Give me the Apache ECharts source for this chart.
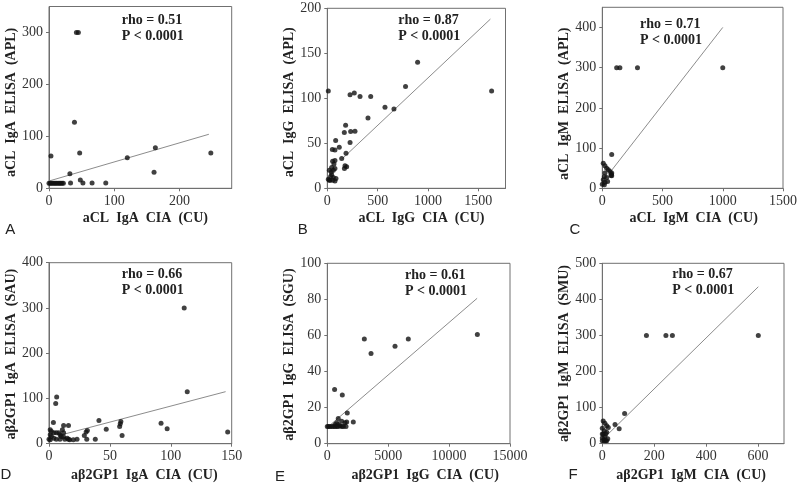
<!DOCTYPE html>
<html><head><meta charset="utf-8">
<script src="https://cdn.jsdelivr.net/npm/echarts@6/dist/echarts.min.js"></script>
<style>html,body{margin:0;padding:0;background:#fff}#c{width:800px;height:483px}</style>
</head><body><div id="c"></div>
<script>
// ---------- DATA ----------
const ptsA = [[42,300],[45,300],[39,127],[47,68],[3,62],[120,59],[163,78],[161,31],[248,68],[32,28],[48,16],[52,10],[33,10],[66,10],[87,10],
  [0,9.5],[2,9.5],[4,9.5],[6,9.5],[8,9.5],[10,9.5],[12,9.5],[14,9.5],[16,9.5],[18,9.5],[20,9.5],[22,9.5]];
const fitA = [[0,14],[245,104]];
const ptsB = [[10,108],[897,140],[1632,108],[777,113],[573,90],[662,88],[404,78],[226,104],[268,106],[325,102],[431,102],[182,70],[169,62],[232,63],[275,63.5],[226,51],[83,53],[50,43],[76,42.6],[119,45.6],[143,33],[186,39],[176,25],[192,24],[170,22],[53,30],[76,31],[66,27],[43,23],[76,22],[20,20],[10,10],[43,15],[60,12],[86,11],[27,9],[53,9],[76,8],[33,13],[20,9],[40,18],[60,20]];
const fitB = [[150,33],[1620,188]];
const ptsC = [[119,300],[146,300],[292,300],[1000,300],[78,84],[8,62],[22,56],[36,50],[50,46],[64,42],[78,38],[72,32],[22,38],[17,29],[36,27],[8,21],[22,15],[44,17],[0,10],[17,9],[78,31],[75,35]];
const fitC = [[60,38],[1000,400]];
const ptsD = [[111,300],[113.5,115],[146.7,26],[92,45],[97,33],[59,49],[58.5,44],[58,38],[60,18],[41,51],[47,32],[30.5,26],[31.5,29],[29,18],[31,10],[23,10],[38,10],[16,10],[6.3,103],[5.5,89],[3.6,47],[12,40],[16,40],
  [1,31],[2,27],[4,24],[6,24],[8,24],[9,20],[10,16],[12,15],[1,20],[2,16],[4,12],[6,10],[9,10],[13,10],[15,12],[17,9],[20,9],[0,10],[1,9],[12,24],[11,31]];
const fitD = [[8,18],[145,115]];
const ptsE = [[3040,58],[3590,50],[5560,54],[6650,58],[12320,60.5],[600,30],[1230,27],[1640,17],[900,14],[2135,12],[1180,12.5],[1450,11.6],[1590,12],[1535,9.6],[1040,10],[770,11.6],[900,10.7],[630,10.7],
  [0,9.5],[100,9.5],[220,9.5],[360,9.5],[500,9.5],[630,9.5],[770,9.5],[900,9.5],[1180,9.5],[1320,9.5]];
const fitE = [[0,9],[12300,80.6]];
const ptsF = [[170,300],[245,300],[270,300],[601,300],[86,84],[49,53],[65,41.5],[3.5,63],[10,57],[17,50],[23,45],[0,43],[8,36],[3.5,27],[10,20],[17,32],[0,16],[8,11],[13,8],[21,14],[0,8],[8,8],[17,8],[0,27],[13,27]];
const fitF = [[20,25],[601,435]];

const xTicksA = [0,100,200], yTicksA = [0,100,200,300];
const xTicksB = [0,500,1000,1500], yTicksB = [0,50,100,150,200];
const xTicksC = [0,500,1000,1500], yTicksC = [0,100,200,300,400];
const xTicksD = [0,50,100,150], yTicksD = [0,100,200,300,400];
const xTicksE = [0,5000,10000,15000], yTicksE = [0,20,40,60,80,100];
const xTicksF = [0,200,400,600], yTicksF = [0,100,200,300,400,500];

const xNames = ['aCL  IgA  CIA  (CU)','aCL  IgG  CIA  (CU)','aCL  IgM  CIA  (CU)','aβ2GP1  IgA  CIA  (CU)','aβ2GP1  IgG  CIA  (CU)','aβ2GP1  IgM  CIA  (CU)'];
const yNames = ['aCL  IgA  ELISA  (APL)','aCL  IgG  ELISA  (APL)','aCL  IgM  ELISA  (APL)','aβ2GP1  IgA  ELISA  (SAU)','aβ2GP1  IgG  ELISA  (SGU)','aβ2GP1  IgM  ELISA  (SMU)'];
const rhoTexts = ['rho = 0.51','rho = 0.87','rho = 0.71','rho = 0.66','rho = 0.61','rho = 0.67'];
const pTexts = ['P < 0.0001','P < 0.0001','P < 0.0001','P < 0.0001','P < 0.0001','P < 0.0001'];
const letters = ['A','B','C','D','E','F'];

const points = [ptsA,ptsB,ptsC,ptsD,ptsE,ptsF];
const fits = [fitA,fitB,fitC,fitD,fitE,fitF];
const xTicks = [xTicksA,xTicksB,xTicksC,xTicksD,xTicksE,xTicksF];
const yTicks = [yTicksA,yTicksB,yTicksC,yTicksD,yTicksE,yTicksF];
const xMaxes = [280,1770,1500,150,15000,700];
const yMaxes = [350,200,450,400,100,500];

// ---------- LAYOUT ----------
const boxes = [
  {l:49, t:6.5, r:231.7, b:188.3, xs:5, ys:5, yGap:29.5, xGap:23.5, ann:[121.7,20.7], let:[10.3,230]},
  {l:327.3, t:8.3, r:505.5, b:188.3, xs:5, ys:4, yGap:22.8, xGap:23.5, ann:[398.3,20.7], let:[302.7,230]},
  {l:602.3, t:7.3, r:784, b:188.3, xs:1, ys:6, yGap:27.8, xGap:23.5, ann:[640,24], let:[575,230]},
  {l:49, t:262.7, r:231.7, b:444, xs:4, ys:1, yGap:29.5, xGap:24.3, ann:[121.7,274.3], let:[6,475]},
  {l:327.3, t:263.3, r:510, b:444, xs:6.5, ys:1, yGap:22.8, xGap:24.3, ann:[405,275], let:[280,476.7]},
  {l:602.3, t:263.3, r:784, b:444, xs:-2, ys:0, yGap:26.3, xGap:24.3, ann:[672.3,274.3], let:[573,475]}
];

const SERIF = '"Liberation Serif","Times New Roman",serif';
const AX = '#707070';
const fmt = v => String(v);
const grids=[], xAxes=[], yAxes=[], series=[], graphics=[];
boxes.forEach((b,i)=>{
  grids.push({left:b.l, top:b.t, width:b.r-b.l, height:b.b-b.t, show:true, borderColor:AX, borderWidth:1, containLabel:false});
  const xp = b.xs>=0 ? [0,0,0,2*b.xs] : [0,-2*b.xs,0,0];
  const yp = b.ys>=0 ? [0,2*b.ys,0,0] : [0,0,0,-2*b.ys];
  xAxes.push({type:'value', gridIndex:i, min:0, max:xMaxes[i],
    name:xNames[i], nameLocation:'middle', nameGap:b.xGap,
    nameTextStyle:{fontFamily:SERIF, fontWeight:'bold', fontSize:14, color:'#222', padding:xp, verticalAlign:'top'},
    axisLine:{show:true, lineStyle:{color:AX, width:1}},
    axisTick:{show:true, length:3, lineStyle:{color:AX}, customValues:xTicks[i]},
    axisLabel:{fontFamily:SERIF, fontSize:14, color:'#333', margin:6, customValues:xTicks[i], formatter:fmt},
    splitLine:{show:false}});
  yAxes.push({type:'value', gridIndex:i, min:0, max:yMaxes[i],
    name:yNames[i], nameLocation:'middle', nameGap:b.yGap,
    nameTextStyle:{fontFamily:SERIF, fontWeight:'bold', fontSize:14, color:'#222', padding:yp},
    axisLine:{show:true, lineStyle:{color:AX, width:1}},
    axisTick:{show:true, length:3, lineStyle:{color:AX}, customValues:yTicks[i]},
    axisLabel:{fontFamily:SERIF, fontSize:14, color:'#333', margin:6, customValues:yTicks[i], formatter:fmt},
    splitLine:{show:false}});
  series.push({type:'line', xAxisIndex:i, yAxisIndex:i, data:fits[i], showSymbol:false, symbol:'none',
    lineStyle:{color:'#8c8c8c', width:1}, silent:true, z:1});
  series.push({type:'scatter', xAxisIndex:i, yAxisIndex:i, data:points[i], symbolSize:5,
    itemStyle:{color:'#111'}, z:2});
  graphics.push({type:'text', x:b.ann[0], y:b.ann[1], style:{text:rhoTexts[i], font:'bold 14px '+SERIF, fill:'#222', verticalAlign:'middle'}});
  graphics.push({type:'text', x:b.ann[0], y:b.ann[1]+16, style:{text:pTexts[i], font:'bold 14px '+SERIF, fill:'#222', verticalAlign:'middle'}});
  graphics.push({type:'text', x:b.let[0], y:b.let[1], style:{text:letters[i], font:'15px "Liberation Sans",Arial,sans-serif', fill:'#222', align:'center', verticalAlign:'middle'}});
});

const chart = echarts.init(document.getElementById('c'), null, {renderer:'canvas'});
chart.setOption({animation:false, backgroundColor:'#fff', grid:grids, xAxis:xAxes, yAxis:yAxes, series:series, graphic:graphics});
</script></body></html>
